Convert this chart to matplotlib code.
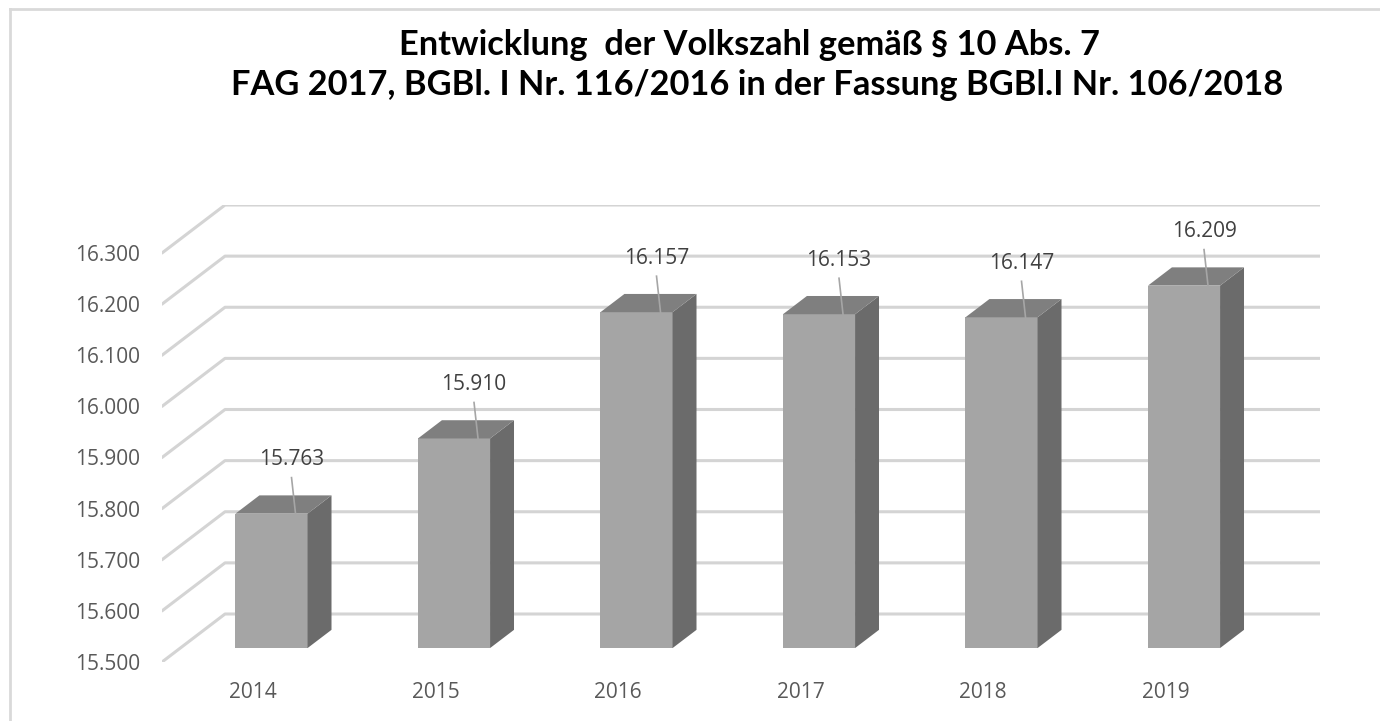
import matplotlib
matplotlib.use("Agg")
import matplotlib.pyplot as plt
from matplotlib.patches import Polygon
from matplotlib.lines import Line2D

# ---- data ----
years = ["2014", "2015", "2016", "2017", "2018", "2019"]
values = [15.763, 15.910, 16.157, 16.153, 16.147, 16.209]
value_labels = ["15.763", "15.910", "16.157", "16.153", "16.147", "16.209"]
yticks = [15.5, 15.6, 15.7, 15.8, 15.9, 16.0, 16.1, 16.2, 16.3]
ytick_labels = ["15.500", "15.600", "15.700", "15.800", "15.900",
                "16.000", "16.100", "16.200", "16.300"]
title1 = "Entwicklung  der Volkszahl gemäß § 10 Abs. 7"
title2 = "FAG 2017, BGBl. I Nr. 116/2016 in der Fassung BGBl.I Nr. 106/2018"

W, H = 1380, 721
fig = plt.figure(figsize=(W / 100, H / 100), dpi=100)
fig.patch.set_facecolor("white")

# axes placement in pixels
ax_l, ax_r = 162, 1320
ax_top, ax_bot = 205, 662
ax = fig.add_axes([ax_l / W, (H - ax_bot) / H, (ax_r - ax_l) / W, (ax_bot - ax_top) / H])
px_per_cat = 182.5
px_per_val = 511.25
ymin = 15.5
ax.set_xlim(0, (ax_r - ax_l) / px_per_cat)
ax.set_ylim(ymin, ymin + (ax_bot - ax_top) / px_per_val)
for s in ax.spines.values():
    s.set_visible(False)
ax.set_facecolor("none")

# oblique depth offsets (data units)
DX = 63 / px_per_cat
DY = 48 / px_per_val
ncat = len(years)

grid_c = "#d4d4d4"
for v in yticks:
    ax.plot([0, DX, ncat + DX], [v, v + DY, v + DY], color=grid_c, lw=2.2,
            solid_capstyle="round", solid_joinstyle="round", zorder=1)

# bars
d1, d2 = 0.29, 0.67
bw = 0.395
front_c, side_c, top_c = "#a5a5a5", "#6b6b6b", "#7f7f7f"
xs = [i + 0.5 + d1 * DX for i in range(ncat)]
base = ymin + d1 * DY
ax.bar(xs, [v - ymin for v in values], width=bw, bottom=base,
       color=front_c, edgecolor="none", zorder=3)
dd = d2 - d1
for x, v in zip(xs, values):
    xl, xr = x - bw / 2, x + bw / 2
    side = Polygon([(xr, base), (xr + dd * DX, base + dd * DY),
                    (xr + dd * DX, v + d1 * DY + dd * DY), (xr, v + d1 * DY)],
                   closed=True, facecolor=side_c, edgecolor="none", zorder=3)
    top = Polygon([(xl, v + d1 * DY), (xr, v + d1 * DY),
                   (xr + dd * DX, v + d1 * DY + dd * DY),
                   (xl + dd * DX, v + d1 * DY + dd * DY)],
                  closed=True, facecolor=top_c, edgecolor="none", zorder=3)
    ax.add_patch(side)
    ax.add_patch(top)

# data labels with leader lines
lab_dx = 20 / px_per_cat
lab_dy = 54 / px_per_val
for x, v, lab in zip(xs, values, value_labels):
    lx = x + lab_dx
    ly = v + d1 * DY + lab_dy
    ax.text(lx, ly, lab, ha="center", va="center", fontsize=15,
            family="Open Sans", color="#404040", zorder=5)
    ax.plot([lx, lx + 4 / px_per_cat], [ly - 18 / px_per_val, v + d1 * DY],
            color="#a6a6a6", lw=1.2, zorder=4)

# y tick labels
ax.set_yticks(yticks)
ax.set_yticklabels(ytick_labels, family="Open Sans", fontsize=15, color="#595959")
ax.tick_params(axis="y", length=0, pad=16)
ax.set_xticks([])

# category labels
for i, yr in enumerate(years):
    ax.text(i + 0.5, -(693 - ax_bot) / (ax_bot - ax_top), yr,
            transform=ax.get_xaxis_transform(), ha="center", va="center",
            fontsize=15, family="Open Sans", color="#595959", clip_on=False)

# titles
t1 = fig.text(749 / W, 1 - 45 / H, title1, ha="center", va="center",
              fontsize=22, fontweight="bold", family="Lato", color="black")
t2 = fig.text(757 / W, 1 - 85 / H, title2, ha="center", va="center",
              fontsize=22, fontweight="bold", family="Lato", color="black")
fig.canvas.draw()
r = fig.canvas.get_renderer()
w2 = t2.get_window_extent(r).width
s = 22 * 1051 / w2
t1.set_fontsize(s)
t2.set_fontsize(s)

# chart border (top and left)
fig.add_artist(Line2D([10 / W, 10 / W], [0, 1 - 9 / H], transform=fig.transFigure,
                      color="#d9d9d9", lw=2))
fig.add_artist(Line2D([10 / W, 1], [1 - 9 / H, 1 - 9 / H], transform=fig.transFigure,
                      color="#d9d9d9", lw=2))

fig.savefig("out.png", dpi=100, facecolor="white")
